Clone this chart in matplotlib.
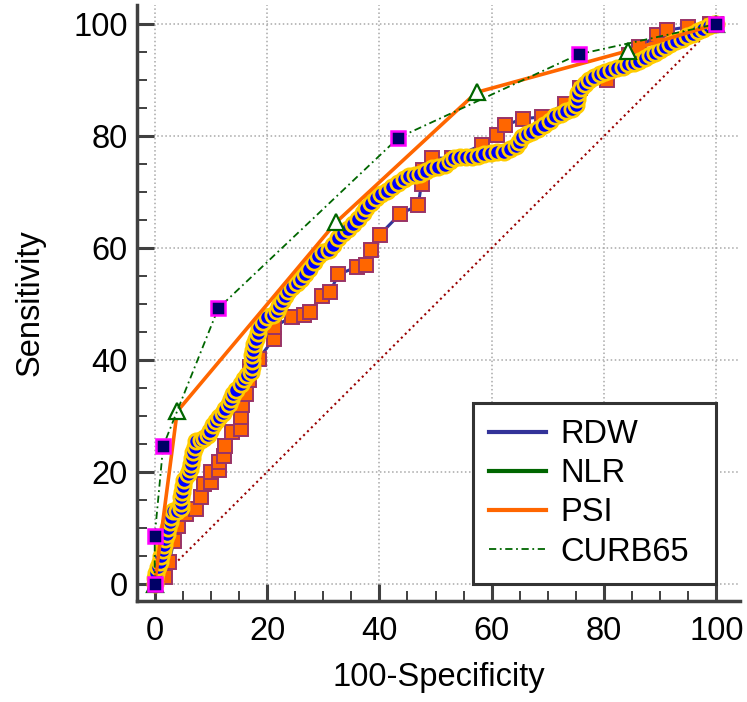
import numpy as np
import matplotlib
matplotlib.use("Agg")
import matplotlib.pyplot as plt
from matplotlib.lines import Line2D

plt.rcParams['font.family'] = ['Liberation Sans', 'DejaVu Sans']

# RDW (orange squares, blue line)
rdw_x = [0, 1.8, 2.6, 3.4, 4.1, 5.6, 7.4, 8.2, 8.8, 10.0, 10.0, 11.5, 11.5, 12.4, 12.6,
         13.8, 15.3, 15.3, 15.6, 16.2, 16.8, 17.0, 18.5, 21.2, 21.2, 24.4, 26.5, 27.6,
         29.7, 31.2, 32.7, 36.0, 37.7, 38.5, 40.1, 43.7, 46.9, 47.5, 47.8, 49.3, 52.9,
         58.2, 60.9, 62.3, 65.6, 68.9, 73.1, 75.7, 80.5, 84.5, 86.3, 89.5, 91.2, 95.0,
         98.9, 100]
rdw_y = [0, 1.2, 3.9, 7.7, 10.4, 12.5, 13.4, 15.5, 17.9, 18.2, 20.0, 20.3, 21.8, 22.9, 24.7,
         27.1, 27.7, 29.8, 31.9, 34.0, 36.4, 38.7, 40.2, 43.8, 45.9, 47.7, 48.0, 48.5,
         51.5, 52.1, 55.3, 56.6, 56.9, 59.6, 62.4, 66.1, 67.6, 71.5, 74.0, 76.1, 76.0,
         78.4, 80.1, 81.9, 83.1, 83.4, 85.8, 88.5, 90.0, 94.5, 95.9, 98.0, 98.9, 99.5,
         100, 100]

# NLR (blue circles, yellow edge)
nlr_x = [0, 0, 0.3, 0.6, 1.0, 1.2, 1.5, 1.6, 1.8, 2.2, 2.4, 2.7, 2.9, 3.2, 4.0, 4.7, 4.7,
         4.7, 4.8, 5.0, 5.3, 5.9, 6.3, 6.5, 6.7, 6.9, 7.1, 7.4, 8.2, 8.8, 9.5, 9.9, 10.3,
         10.9, 11.5, 12.1, 12.6, 13.2, 13.6, 13.9, 14.5, 15.3, 15.9, 16.5, 17.1, 17.3,
         17.4, 17.4, 17.5, 17.7, 18.0, 18.3, 18.6, 19.2, 20.0, 21.0, 21.7, 22.2, 22.7,
         23.2, 23.8, 24.5, 25.3, 26.0, 26.7, 27.5, 28.3, 29.1, 30.0, 31.0, 31.8, 32.6,
         33.5, 34.4, 35.3, 36.2, 37.0, 37.7, 38.5, 39.4, 40.3, 41.3, 42.3, 43.3, 44.3,
         45.3, 46.3, 47.3, 48.3, 49.3, 50.5, 51.6, 52.5, 53.3, 54.3, 55.4, 56.5, 57.6,
         58.7, 59.8, 61.0, 62.1, 63.3, 64.3, 64.8, 65.3, 66.2, 67.2, 68.2, 69.3, 70.3,
         71.2, 72.3, 73.3, 74.3, 75.0, 75.2, 75.4, 75.9, 76.6, 77.4, 78.2, 79.2, 80.2,
         81.2, 82.3, 83.3, 84.3, 85.3, 86.3, 87.3, 88.2, 89.1, 90.0, 90.9, 91.8, 92.8,
         93.8, 94.8, 95.9, 96.8, 97.7, 98.6, 99.5, 100]
nlr_y = [0, 1, 2, 3, 4, 5, 6, 7, 8, 9, 10, 11, 12, 13, 13, 13.5, 14.5,
         15.5, 16.5, 17.5, 18.5, 19.7, 20.5, 21.5, 22.5, 23.5, 24.4, 25.5, 25.7, 26.0, 26.6, 27.4, 28.3,
         29.1, 29.8, 30.5, 31.3, 32.2, 33.0, 33.9, 34.6, 35.7, 36.6, 37.4, 37.9, 38.8,
         39.8, 40.8, 41.8, 42.8, 43.8, 44.8, 45.9, 46.8, 47.7, 48.1, 48.7, 49.6, 50.5,
         51.4, 52.3, 53.1, 53.8, 54.5, 55.3, 56.3, 57.5, 58.5, 59.2, 59.6, 60.6, 61.7,
         62.6, 63.4, 64.3, 65.2, 66.2, 67.2, 68.1, 68.9, 69.6, 70.2, 70.9, 71.6, 72.3,
         72.8, 73.1, 73.3, 73.8, 74.3, 74.5, 74.8, 75.5, 76.0, 76.3, 76.3, 76.3, 76.5,
         76.8, 77.0, 77.1, 77.2, 77.6, 78.2, 79.0, 79.8, 80.3, 80.8, 81.3, 81.9, 82.7,
         83.5, 84.0, 84.4, 84.8, 85.6, 86.6, 87.6, 88.5, 89.3, 90.0, 90.6, 91.1, 91.5,
         91.8, 92.1, 92.4, 92.8, 93.1, 93.4, 94.0, 94.5, 94.9, 95.4, 95.9, 96.5, 97.0,
         97.4, 97.9, 98.3, 98.8, 99.2, 99.6, 100, 100]

# PSI (orange line, hollow green triangles)
psi_x = [0, 4.0, 32.3, 57.3, 84.2, 100]
psi_y = [0, 30.8, 64.6, 87.8, 95.2, 100]

# CURB65 (green dash-dot, navy squares)
curb_x = [0, 0, 1.5, 11.3, 43.4, 75.5, 100]
curb_y = [0, 8.5, 24.6, 49.2, 79.7, 94.6, 100]

labels = ['RDW', 'NLR', 'PSI', 'CURB65']

fs = 23.5

fig = plt.figure(figsize=(7.47, 7.02), dpi=100)
ax = fig.add_axes([137.3 / 747, 101.3 / 702, 602.7 / 747, 595.7 / 702])

ax.plot([0, 100], [0, 100], linestyle=':', color='#990000', lw=1.5, zorder=2)

ax.plot(rdw_x, rdw_y, '-s', color='#333399', lw=2.2, ms=10,
        mfc='#ff6600', mec='#993366', mew=1.4, zorder=3, clip_on=False)
ax.plot(nlr_x, nlr_y, '-o', color='#006600', lw=2.2, ms=11,
        mfc='#0000ff', mec='#ffcc00', mew=2.0, zorder=4, clip_on=False)
ax.plot(psi_x, psi_y, '-^', color='#ff6600', lw=2.6, ms=12,
        mfc='white', mec='#006600', mew=1.6, zorder=5, clip_on=False)
ax.plot(curb_x, curb_y, 's', linestyle=(0, (4, 2, 1, 2)), color='#006600', lw=1.3, ms=10,
        mfc='#000066', mec='#ff00ff', mew=1.8, zorder=6, clip_on=False)

ax.set_xlim(-3.1, 104.2)
ax.set_ylim(-3.0, 103.4)
ax.set_xticks(np.arange(0, 101, 20))
ax.set_yticks(np.arange(0, 101, 20))
ax.set_xticks(np.arange(0, 101, 5), minor=True)
ax.set_yticks(np.arange(0, 101, 5), minor=True)

for s in ['top', 'right']:
    ax.spines[s].set_visible(False)
for s in ['left', 'bottom']:
    ax.spines[s].set_linewidth(2.5)
    ax.spines[s].set_color('#404040')

ax.tick_params(which='major', direction='in', length=12.5, width=2.2, color='#404040',
               labelsize=fs, pad=7)
ax.tick_params(which='minor', direction='in', length=7, width=1.4, color='#404040')
ax.tick_params(axis='x', which='major', pad=11)

ax.grid(which='major', linestyle=':', color='#a8a8a8', lw=1.1)
ax.set_axisbelow(True)

ax.set_xlabel('100-Specificity', fontsize=fs, labelpad=11)
ax.set_ylabel('Sensitivity', fontsize=fs, labelpad=20)

# legend shows line styles only
handles = [Line2D([], [], color='#333399', lw=3),
           Line2D([], [], color='#006600', lw=3),
           Line2D([], [], color='#ff6600', lw=3),
           Line2D([], [], color='#006600', lw=1.3, linestyle=(0, (4, 2, 1, 2)))]
leg = ax.legend(handles, labels, loc='lower left', mode='expand',
                bbox_to_anchor=(56.6, 0, 43.4, 32), bbox_transform=ax.transData,
                fontsize=fs, fancybox=False, framealpha=1, borderaxespad=0,
                handlelength=1.75, handletextpad=0.45, labelspacing=0.25, borderpad=0.5)
leg.get_frame().set_edgecolor('#333333')
leg.get_frame().set_linewidth(2.2)
leg.set_zorder(10)

fig.savefig('out.png', dpi=100)
